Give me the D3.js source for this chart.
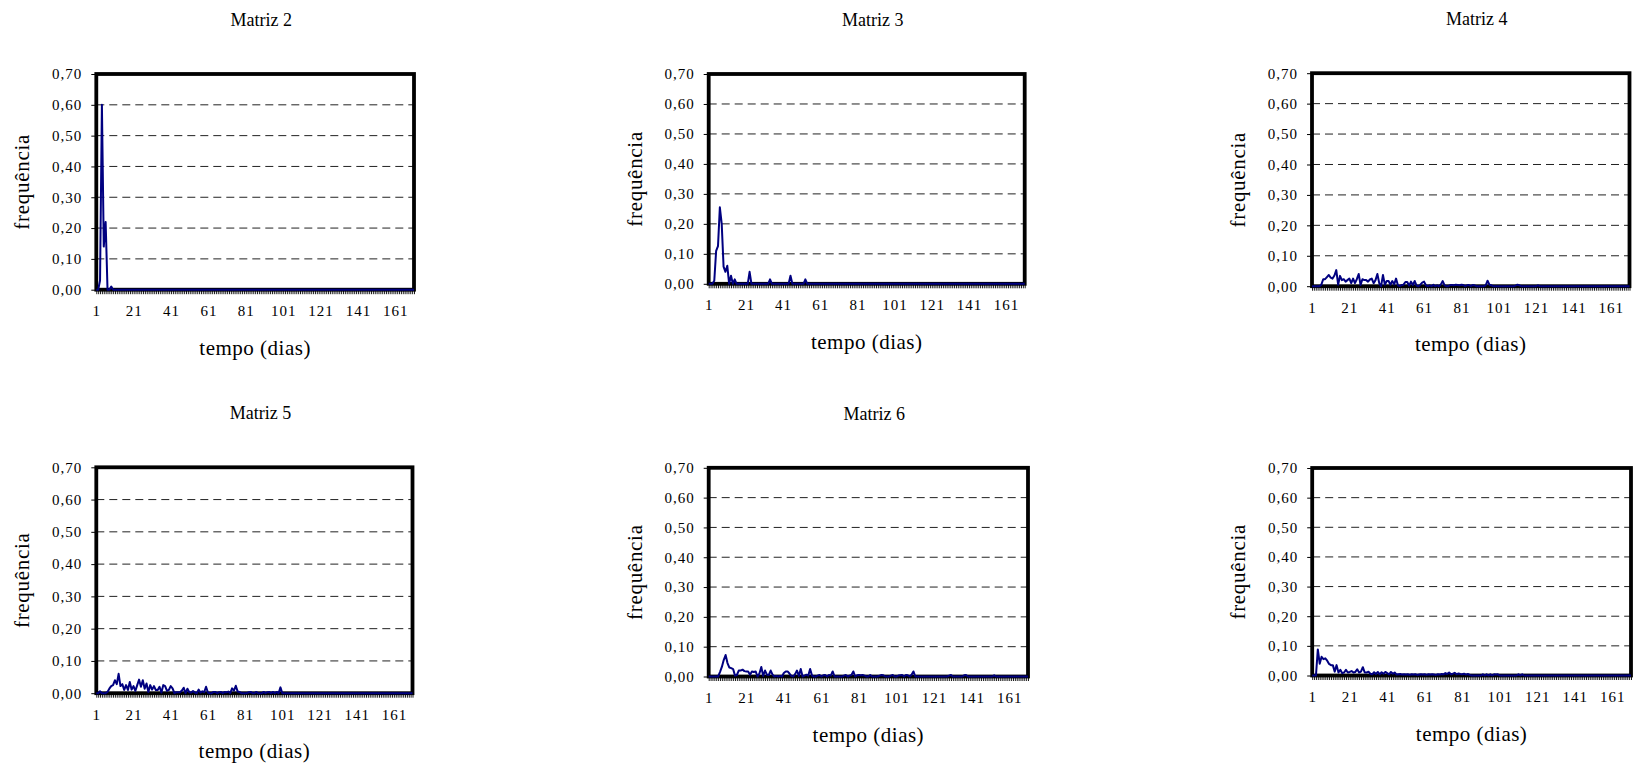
<!DOCTYPE html>
<html>
<head>
<meta charset="utf-8">
<script src="https://cdn.jsdelivr.net/npm/d3@7"></script>
<style>
  body { margin: 0; background: #fff; }
  svg { display: block; }
</style>
</head>
<body>
<svg width="1634" height="765"></svg>
<script>
// days on the category axis and the labelled ones
const days = d3.range(1, 172);
const xTickLabels = [1, 21, 41, 61, 81, 101, 121, 141, 161];
const yTicks = [0, 0.1, 0.2, 0.3, 0.4, 0.5, 0.6, 0.7];
const titles = ["Matriz 2", "Matriz 3", "Matriz 4", "Matriz 5", "Matriz 6", ""];

// frequency per day (index 0 = day 1)
const matriz2 = [
  0, 0, 0.03, 0.60, 0.14, 0.22, 0, 0, 0.01, 0,
  0, 0, 0, 0, 0, 0, 0, 0, 0, 0,
  0, 0, 0, 0, 0, 0, 0, 0, 0, 0,
  0, 0, 0, 0, 0, 0, 0, 0, 0, 0,
  0, 0, 0, 0, 0, 0, 0, 0, 0, 0,
  0, 0, 0, 0, 0, 0, 0, 0, 0, 0,
  0, 0, 0, 0, 0, 0, 0, 0, 0, 0,
  0, 0, 0, 0, 0, 0, 0, 0, 0, 0,
  0, 0, 0, 0, 0, 0, 0, 0, 0, 0,
  0, 0, 0, 0, 0, 0, 0, 0, 0, 0,
  0, 0, 0, 0, 0, 0, 0, 0, 0, 0,
  0, 0, 0, 0, 0, 0, 0, 0, 0, 0,
  0, 0, 0, 0, 0, 0, 0, 0, 0, 0,
  0, 0, 0, 0, 0, 0, 0, 0, 0, 0,
  0, 0, 0, 0, 0, 0, 0, 0, 0, 0,
  0, 0, 0, 0, 0, 0, 0, 0, 0, 0,
  0, 0, 0, 0, 0, 0, 0, 0, 0, 0,
  0
];

const matriz3 = [
  0, 0, 0, 0.01, 0.11, 0.126, 0.255, 0.20, 0.057, 0.04,
  0.06, 0, 0.027, 0, 0.015, 0, 0, 0, 0, 0,
  0, 0, 0.04, 0, 0, 0, 0, 0, 0, 0,
  0, 0, 0, 0.015, 0, 0, 0, 0, 0, 0,
  0, 0, 0, 0, 0.027, 0, 0, 0, 0, 0,
  0, 0, 0.015, 0, 0, 0, 0, 0, 0, 0,
  0, 0, 0, 0, 0, 0, 0, 0, 0, 0,
  0, 0, 0, 0, 0, 0, 0, 0, 0, 0,
  0, 0, 0, 0, 0, 0, 0, 0, 0, 0,
  0, 0, 0, 0, 0, 0, 0, 0, 0, 0,
  0, 0, 0, 0, 0, 0, 0, 0, 0, 0,
  0, 0, 0, 0, 0, 0, 0, 0, 0, 0,
  0, 0, 0, 0, 0, 0, 0, 0, 0, 0,
  0, 0, 0, 0, 0, 0, 0, 0, 0, 0,
  0, 0, 0, 0, 0, 0, 0, 0, 0, 0,
  0, 0, 0, 0, 0, 0, 0, 0, 0, 0,
  0, 0, 0, 0, 0, 0, 0, 0, 0, 0,
  0
];

const matriz4 = [
  0, 0, 0, 0, 0, 0.005, 0.023, 0.023, 0.03, 0.037,
  0.028, 0.025, 0.035, 0.053, 0.005, 0.034, 0.02, 0.023, 0.015, 0.02,
  0.025, 0.01, 0.025, 0.01, 0.023, 0.04, 0.004, 0.023, 0.02, 0.02,
  0.015, 0.022, 0.025, 0.01, 0.02, 0.04, 0.01, 0, 0.037, 0.005,
  0.017, 0.017, 0.005, 0.017, 0.006, 0.025, 0.003, 0, 0.004, 0.005,
  0.014, 0.014, 0.002, 0.015, 0.004, 0.017, 0.002, 0, 0.005, 0.012,
  0.015, 0.003, 0, 0.003, 0, 0.005, 0, 0.003, 0, 0.006,
  0.017, 0.003, 0, 0, 0.004, 0.004, 0.003, 0.005, 0.004, 0.003,
  0.005, 0.004, 0, 0.003, 0.004, 0, 0.004, 0.003, 0, 0,
  0, 0, 0, 0.003, 0.018, 0.005, 0.003, 0, 0, 0,
  0, 0, 0, 0, 0, 0, 0, 0, 0, 0.002,
  0.005, 0.003, 0, 0, 0, 0, 0, 0, 0, 0,
  0, 0.003, 0, 0, 0, 0, 0, 0, 0, 0,
  0, 0, 0, 0, 0, 0, 0, 0, 0, 0,
  0, 0, 0, 0, 0, 0, 0, 0, 0, 0,
  0, 0, 0, 0, 0, 0, 0, 0, 0, 0,
  0, 0, 0, 0, 0, 0, 0, 0, 0, 0,
  0
];

const matriz5 = [
  0, 0, 0.006, 0, 0, 0, 0.004, 0.014, 0.022, 0.025,
  0.04, 0.028, 0.06, 0.022, 0.028, 0.01, 0.025, 0.01, 0.035, 0.011,
  0.022, 0.007, 0.025, 0.042, 0.02, 0.04, 0.014, 0.03, 0.004, 0.025,
  0.011, 0.022, 0.01, 0.01, 0.02, 0.002, 0.025, 0.022, 0.007, 0.01,
  0.022, 0.015, 0, 0.003, 0.003, 0.003, 0.008, 0.017, 0, 0.014,
  0.003, 0.002, 0.007, 0.002, 0, 0.011, 0.002, 0.006, 0.003, 0.02,
  0.002, 0, 0, 0.004, 0.004, 0, 0.003, 0.004, 0, 0.004,
  0.003, 0.005, 0, 0.015, 0.008, 0.023, 0.005, 0.004, 0, 0,
  0, 0, 0.003, 0.004, 0, 0, 0.004, 0, 0, 0,
  0.004, 0, 0.003, 0.004, 0, 0.004, 0, 0.004, 0, 0.018,
  0, 0, 0, 0, 0, 0, 0, 0, 0, 0,
  0, 0, 0, 0, 0, 0, 0, 0, 0, 0,
  0, 0, 0, 0, 0, 0, 0, 0, 0, 0,
  0, 0, 0, 0, 0, 0, 0, 0, 0, 0,
  0, 0, 0, 0, 0, 0, 0, 0, 0, 0,
  0, 0, 0, 0, 0, 0, 0, 0, 0, 0,
  0, 0, 0, 0, 0, 0, 0, 0, 0, 0,
  0
];

const matriz6 = [
  0, 0, 0, 0, 0, 0, 0.015, 0.032, 0.055, 0.072,
  0.045, 0.03, 0.028, 0.025, 0.003, 0.005, 0.02, 0.02, 0.023, 0.018,
  0.017, 0.017, 0.006, 0.017, 0.015, 0.017, 0, 0.01, 0.032, 0.002,
  0.02, 0.006, 0.005, 0.02, 0.006, 0, 0.002, 0, 0.002, 0,
  0.012, 0.017, 0.017, 0.01, 0.002, 0, 0.008, 0.02, 0.002, 0.025,
  0, 0.003, 0.006, 0.003, 0.025, 0.003, 0, 0, 0.003, 0.005,
  0, 0.004, 0.005, 0, 0.005, 0.003, 0.017, 0, 0, 0,
  0, 0, 0.003, 0.005, 0, 0.003, 0.005, 0.017, 0, 0.004,
  0.005, 0.004, 0.005, 0.003, 0, 0, 0.005, 0, 0, 0,
  0, 0.003, 0.005, 0.004, 0, 0, 0, 0.003, 0.005, 0,
  0, 0.003, 0.004, 0.005, 0, 0.005, 0.004, 0, 0.006, 0.017,
  0, 0, 0, 0, 0, 0, 0, 0, 0, 0,
  0, 0, 0, 0, 0, 0, 0, 0, 0.003, 0.005,
  0, 0, 0, 0, 0, 0, 0.004, 0.005, 0, 0,
  0, 0, 0, 0, 0, 0, 0, 0, 0, 0,
  0, 0, 0.004, 0, 0, 0, 0, 0, 0, 0,
  0, 0, 0, 0, 0, 0, 0, 0, 0, 0,
  0
];

const matriz7 = [
  0, 0, 0, 0.088, 0.04, 0.063, 0.055, 0.058, 0.05, 0.039,
  0.035, 0.035, 0.013, 0.035, 0.01, 0.019, 0.008, 0.01, 0.019, 0.01,
  0.012, 0.015, 0.01, 0.012, 0.021, 0.01, 0.013, 0.028, 0.01, 0.01,
  0.013, 0.006, 0.004, 0.011, 0.005, 0.012, 0.004, 0.011, 0.006, 0.012,
  0.008, 0.004, 0.012, 0.006, 0.01, 0.003, 0.004, 0.005, 0.003, 0.004,
  0.003, 0.004, 0.002, 0.004, 0.003, 0.004, 0.002, 0.003, 0.004, 0.003,
  0.004, 0.002, 0.004, 0.003, 0.004, 0.003, 0.002, 0.004, 0.003, 0.005,
  0.004, 0.008, 0.005, 0.01, 0.004, 0.006, 0.009, 0.004, 0.007, 0.005,
  0.004, 0.006, 0.003, 0.005, 0.002, 0, 0, 0, 0, 0,
  0, 0.004, 0, 0.004, 0, 0.004, 0, 0.004, 0.003, 0.004,
  0, 0, 0, 0, 0, 0, 0, 0, 0, 0,
  0.004, 0, 0.004, 0, 0, 0, 0, 0, 0, 0,
  0, 0, 0, 0, 0, 0, 0, 0, 0, 0,
  0, 0, 0, 0, 0, 0, 0, 0, 0, 0,
  0, 0, 0, 0, 0, 0, 0, 0, 0, 0,
  0, 0, 0, 0, 0, 0, 0, 0, 0, 0,
  0, 0, 0, 0, 0, 0, 0, 0, 0, 0,
  0
];

const series = [matriz2, matriz3, matriz4, matriz5, matriz6, matriz7];

// plot boxes of the six panels
const boxes = [
  { left: 96.3, top: 74, right: 414, bottom: 289.7 },
  { left: 708.7, top: 74, right: 1024.7, bottom: 283.8 },
  { left: 1312, top: 73.2, right: 1629.5, bottom: 286.2 },
  { left: 96.3, top: 467.3, right: 412.5, bottom: 693.2 },
  { left: 708.7, top: 467.8, right: 1028, bottom: 676.5 },
  { left: 1312.2, top: 468, right: 1631, bottom: 675.5 }
];

const serif = "'Liberation Serif', 'Times New Roman', serif";
const ptBR = d3.formatLocale({ decimal: ",", thousands: ".", grouping: [3], currency: ["R$", ""] });
const fmt = ptBR.format(".2f");

const svg = d3.select("svg");

boxes.forEach((b, k) => {
  const values = series[k];
  const x = d3.scaleLinear().domain([1, days.length]).range([b.left, b.right]);
  const y = d3.scaleLinear().domain([0, 0.7]).range([b.bottom, b.top]);
  const g = svg.append("g");

  // dashed gridlines
  g.selectAll(".grid")
    .data(yTicks.filter(v => v > 0 && v < 0.7))
    .enter()
    .append("line")
    .attr("x1", b.left)
    .attr("x2", b.right)
    .attr("y1", d => y(d))
    .attr("y2", d => y(d))
    .attr("stroke", "#222")
    .attr("stroke-width", 1)
    .attr("stroke-dasharray", "8,5");

  // y axis
  const yAxis = g.append("g")
    .attr("transform", `translate(${b.left},0)`)
    .call(d3.axisLeft(y).tickValues(yTicks).tickFormat(fmt).tickSize(5).tickPadding(9));
  yAxis.select(".domain").remove();
  yAxis.selectAll("line").attr("stroke", "#000");
  yAxis.selectAll("text")
    .attr("font-family", serif)
    .attr("font-size", 15)
    .attr("letter-spacing", "1px")
    .attr("fill", "#000");

  // one small tick per day
  const minor = g.append("g")
    .attr("transform", `translate(0,${b.bottom})`)
    .call(d3.axisBottom(x).tickValues(days).tickFormat("").tickSize(4.5));
  minor.select(".domain").remove();
  minor.selectAll("line").attr("stroke", "#000").attr("stroke-width", 0.9);

  const xAxis = g.append("g")
    .attr("transform", `translate(0,${b.bottom})`)
    .call(d3.axisBottom(x).tickValues(xTickLabels).tickFormat(d3.format("d")).tickSize(0).tickPadding(16));
  xAxis.select(".domain").remove();
  xAxis.selectAll("text")
    .attr("font-family", serif)
    .attr("font-size", 15)
    .attr("letter-spacing", "1px")
    .attr("fill", "#000");

  // frame
  g.append("rect")
    .attr("x", b.left)
    .attr("y", b.top)
    .attr("width", b.right - b.left)
    .attr("height", b.bottom - b.top)
    .attr("fill", "none")
    .attr("stroke", "#000")
    .attr("stroke-width", 3.8);

  // series
  g.append("path")
    .datum(values)
    .attr("fill", "none")
    .attr("stroke", "#000080")
    .attr("stroke-width", 2)
    .attr("stroke-linejoin", "round")
    .attr("d", d3.line().x((d, i) => x(days[i])).y(d => y(d)));

  // texts
  const cx = (b.left + b.right) / 2;
  const cy = (b.top + b.bottom) / 2;
  if (titles[k]) {
    g.append("text")
      .attr("x", cx + 6)
      .attr("y", b.top - 48)
      .attr("text-anchor", "middle")
      .attr("font-family", serif)
      .attr("font-size", 18)
      .text(titles[k]);
  }
  g.append("text")
    .attr("x", cx)
    .attr("y", b.bottom + 65)
    .attr("text-anchor", "middle")
    .attr("font-family", serif)
    .attr("font-size", 21)
    .attr("letter-spacing", "0.5px")
    .text("tempo (dias)");
  g.append("text")
    .attr("transform", `translate(${b.left - 67},${cy}) rotate(-90)`)
    .attr("text-anchor", "middle")
    .attr("font-family", serif)
    .attr("font-size", 21)
    .attr("letter-spacing", "0.7px")
    .text("frequência");
});
</script>
</body>
</html>
